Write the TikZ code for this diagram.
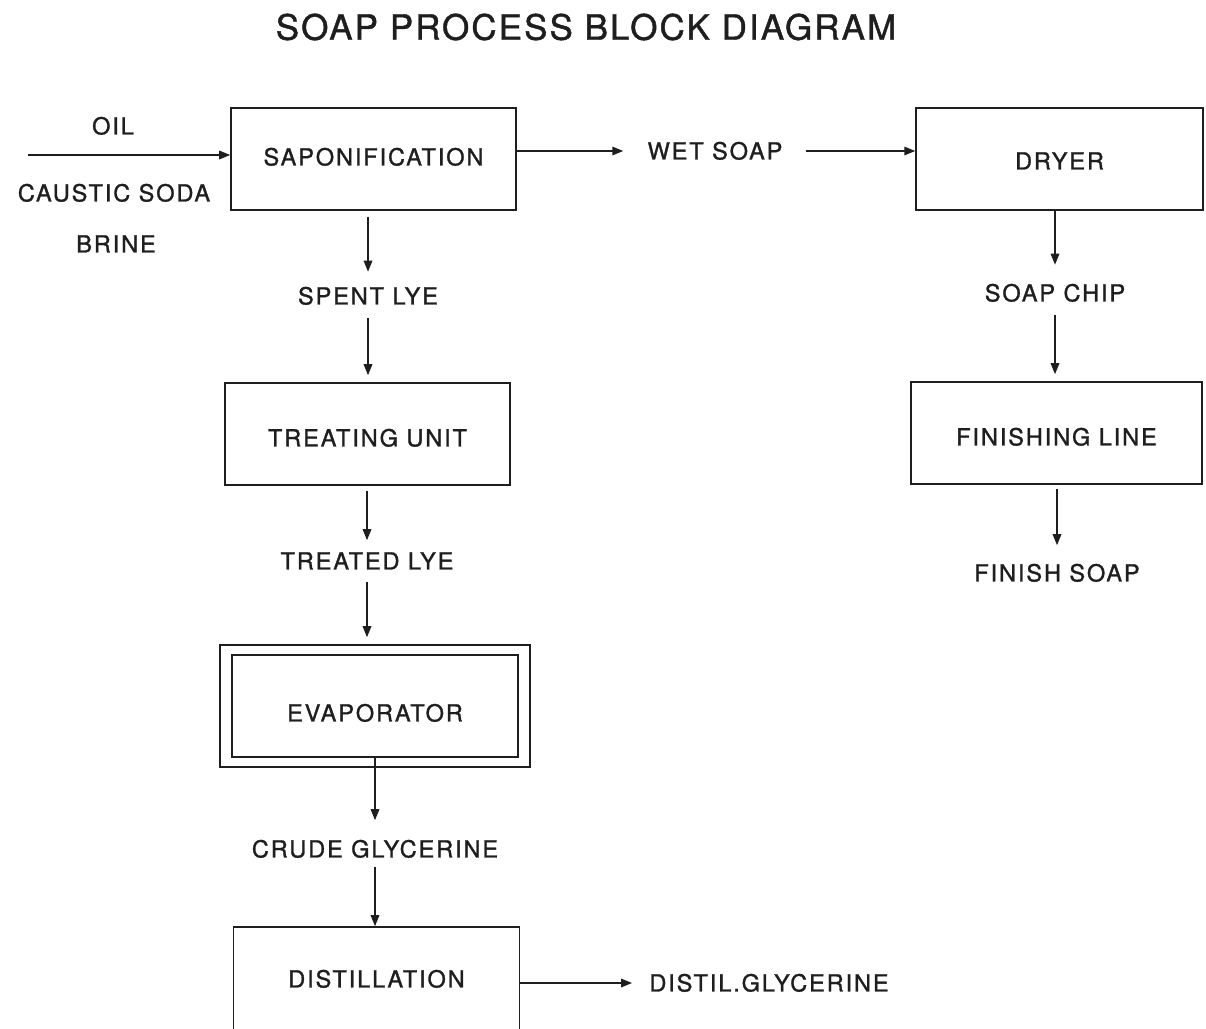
\documentclass[tikz,border=0pt]{standalone}
\usepackage{fontspec}
\setmainfont{TeX Gyre Heros}
\newfontfamily\labfont{TeX Gyre Heros}[LetterSpace=8,FakeBold=1.2]
\newfontfamily\ttlfont{TeX Gyre Heros}[LetterSpace=6,FakeBold=1.2]
\usetikzlibrary{arrows.meta}
\definecolor{ink}{HTML}{1E1E1E}
\begin{document}
\begin{tikzpicture}[x=0.02cm,y=-0.02cm,
  lbl/.style={inner sep=0pt,text height=9.6pt,text depth=0pt,text=ink,
    font=\labfont\fontsize{13.4}{16}\selectfont},
  box/.style={draw=ink,line width=0.9pt,inner sep=0pt,text=ink,
    text height=9.6pt,text depth=0pt,
    font=\labfont\fontsize{13.4}{16}\selectfont},
  arr/.style={draw=ink,line width=0.9pt,-{Triangle[length=0.22cm,width=0.17cm]}}]
\clip (0,0) rectangle (1206,1028);
\fill[white] (0,0) rectangle (1206,1028);

% title
\node[inner sep=0pt,text=ink,font=\ttlfont\fontsize{19.9}{24}\selectfont] (title) at (586,27) {SOAP PROCESS BLOCK DIAGRAM};

% boxes
\node[box,minimum width=5.7cm,minimum height=2.04cm,text depth=2.3pt] (sapon) at (373.5,159) {SAPONIFICATION};
\node[box,minimum width=5.74cm,minimum height=2.04cm,text height=11.9pt] (dryer) at (1059.5,159) {DRYER};
\node[box,minimum width=5.82cm,minimum height=2.04cm,text height=14.1pt] (finline) at (1056.5,433) {FINISHING LINE};
\node[box,minimum width=5.7cm,minimum height=2.04cm,text height=14.1pt] (treat) at (367.5,434) {TREATING UNIT};
\node[box,minimum width=6.2cm,minimum height=2.44cm] (evapo) at (375,706) {};
\node[box,minimum width=5.72cm,minimum height=2.04cm,text height=17.6pt] (evap) at (375,706) {EVAPORATOR};
\node[box,minimum width=5.72cm,minimum height=2.08cm] (dist) at (376.5,979) {DISTILLATION};

% labels
\node[lbl] (oil) at (113,126) {OIL};
\node[lbl] (caustic) at (114,193) {CAUSTIC SODA};
\node[lbl] (brine) at (116,244) {BRINE};
\node[lbl] (spent) at (368,296) {SPENT LYE};
\node[lbl] (treated) at (367,561) {TREATED LYE};
\node[lbl] (crude) at (375,849) {CRUDE GLYCERINE};
\node[lbl] (wet) at (715,151) {WET SOAP};
\node[lbl] (chip) at (1055,293) {SOAP CHIP};
\node[lbl] (finish) at (1057,573) {FINISH SOAP};
\node[lbl] (distil) at (769,983) {DISTIL.GLYCERINE};

% connectors
\coordinate (feed) at (28,155);
\draw[arr] (feed) -- (feed -| sapon.west);
\draw[arr,shorten >=0.48cm] (sapon.east |- wet) -- (wet.west);
\draw[arr,shorten <=0.46cm] (wet.east) -- (wet.east -| dryer.west);
\draw[arr,shorten >=0.39cm] (dryer.south -| chip) -- (chip.north);
\draw[arr,shorten <=0.26cm,shorten >=0.14cm] (chip.south) -- (chip.south |- finline.north);
\draw[arr,shorten <=0.08cm,shorten >=0.38cm] (finline.south -| finish) -- (finish.north);
\draw[arr,shorten <=0.12cm,shorten >=0.31cm] (sapon.south -| spent) -- (spent.north);
\draw[arr,shorten <=0.27cm,shorten >=0.14cm] (spent.south) -- (spent.south |- treat.north);
\draw[arr,shorten <=0.1cm,shorten >=0.24cm] (treat.south -| treated) -- (treated.north);
\draw[arr,shorten <=0.24cm,shorten >=0.14cm] (treated.south) -- (treated.south |- evapo.north);
\draw[arr,shorten >=0.4cm] (evap.south -| crude) -- (crude.north);
\draw[arr,shorten <=0.18cm] (crude.south) -- (crude.south |- dist.north);
\draw[arr,shorten >=0.34cm] (dist.east |- distil) -- (distil.west);
\end{tikzpicture}
\end{document}
